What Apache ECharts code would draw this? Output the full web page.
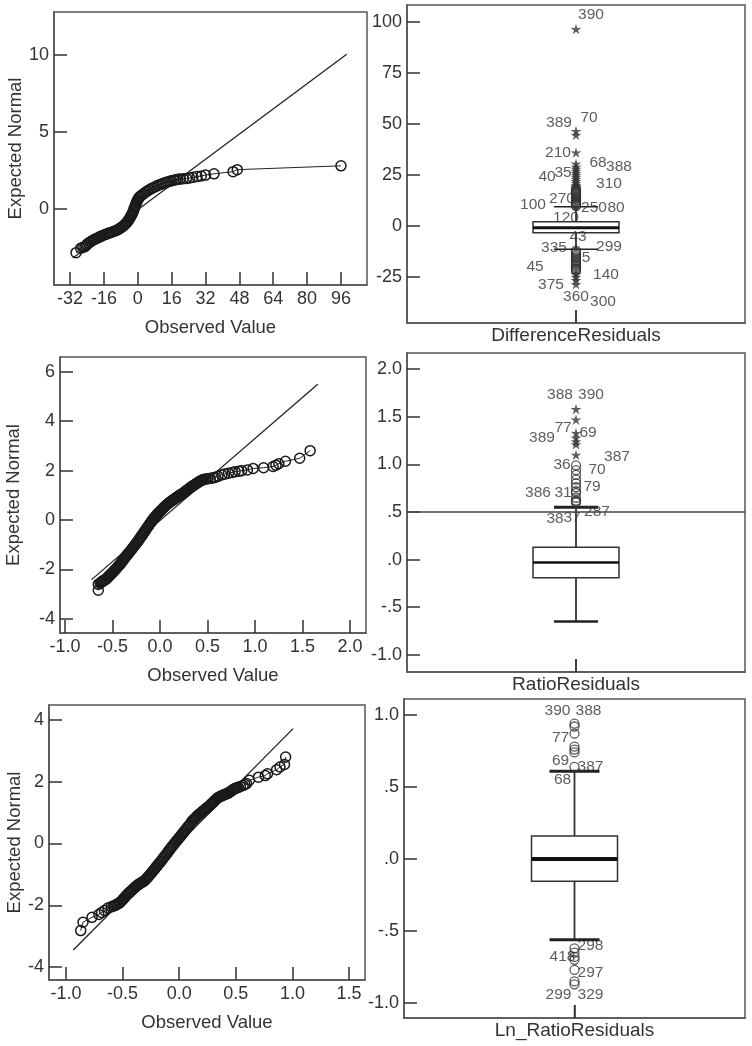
<!DOCTYPE html>
<html>
<head>
<meta charset="utf-8">
<script src="https://cdn.jsdelivr.net/npm/echarts@6/dist/echarts.min.js"></script>
<style>
html,body{margin:0;padding:0;background:#fff;}
#chart{width:752px;height:1046px;}
</style>
</head>
<body>
<div id="chart"></div>
<script>
// ---------- DATA ----------
// Q-Q plot 1 (DifferenceResiduals): [observed, expected normal]
const qq1Points = [[-29.2,-2.84],[-27,-2.55],[-26,-2.5],[-25,-2.45],[-24.5,-2.38],[-24,-2.3],[-23.3,-2.22],[-22.5,-2.15],[-22,-2.1],[-21.2,-2.03],[-20.5,-1.98],[-19.8,-1.93],[-19,-1.88],[-18.2,-1.83],[-17.5,-1.78],[-16.8,-1.74],[-16,-1.69],[-15.2,-1.65],[-14.4,-1.61],[-13.6,-1.57],[-12.8,-1.53],[-12,-1.49],[-11.2,-1.45],[-10.4,-1.41],[-9.7,-1.36],[-9,-1.31],[-8.3,-1.25],[-7.6,-1.19],[-7,-1.12],[-6.4,-1.05],[-5.9,-0.98],[-5.4,-0.91],[-5,-0.84],[-4.5,-0.76],[-4.1,-0.67],[-3.7,-0.58],[-3.3,-0.48],[-2.9,-0.39],[-2.6,-0.3],[-2.3,-0.2],[-2,-0.1],[-1.8,0.0],[-1.5,0.1],[-1.2,0.2],[-0.9,0.3],[-0.6,0.42],[-0.3,0.52],[0.1,0.62],[0.5,0.72],[1,0.8],[1.6,0.87],[2.3,0.94],[3,1.02],[3.8,1.1],[4.6,1.17],[5.5,1.25],[6.4,1.32],[7.3,1.38],[8.2,1.44],[9.1,1.5],[10,1.56],[11,1.61],[12,1.66],[13,1.71],[14,1.75],[15,1.79],[16,1.83],[17,1.87],[18,1.9],[19,1.92],[20,1.94],[21.5,1.96],[23,1.98],[24.5,2.01],[26,2.05],[28,2.1],[30,2.14],[32,2.2],[36,2.28],[45,2.42],[47,2.55],[96,2.8]];
const qq1RefLine = [[-30.7,-3.18],[98.7,10.05]];
const qq1XTicks = [-32,-16,0,16,32,48,64,80,96];
const qq1YTicks = [0,5,10];

// Q-Q plot 2 (RatioResiduals)
const qq2Points = [[-0.65,-2.84],[-0.65,-2.6],[-0.63,-2.55],[-0.62,-2.52],[-0.61,-2.49],[-0.6,-2.46],[-0.59,-2.44],[-0.58,-2.42],[-0.57,-2.39],[-0.56,-2.36],[-0.55,-2.32],[-0.54,-2.28],[-0.53,-2.24],[-0.52,-2.2],[-0.51,-2.16],[-0.5,-2.12],[-0.49,-2.08],[-0.48,-2.04],[-0.47,-2.0],[-0.46,-1.96],[-0.45,-1.91],[-0.44,-1.87],[-0.43,-1.83],[-0.42,-1.78],[-0.41,-1.73],[-0.4,-1.68],[-0.39,-1.63],[-0.38,-1.58],[-0.37,-1.53],[-0.36,-1.48],[-0.35,-1.43],[-0.34,-1.38],[-0.33,-1.34],[-0.32,-1.29],[-0.31,-1.24],[-0.3,-1.19],[-0.29,-1.14],[-0.28,-1.09],[-0.27,-1.04],[-0.26,-0.99],[-0.25,-0.94],[-0.24,-0.89],[-0.23,-0.84],[-0.22,-0.78],[-0.21,-0.73],[-0.2,-0.67],[-0.19,-0.62],[-0.18,-0.56],[-0.17,-0.5],[-0.16,-0.45],[-0.15,-0.39],[-0.14,-0.33],[-0.13,-0.28],[-0.12,-0.22],[-0.11,-0.17],[-0.1,-0.11],[-0.09,-0.06],[-0.08,0.0],[-0.07,0.05],[-0.06,0.09],[-0.05,0.14],[-0.04,0.18],[-0.03,0.23],[-0.02,0.27],[-0.01,0.31],[0.0,0.35],[0.01,0.39],[0.02,0.43],[0.03,0.47],[0.04,0.51],[0.05,0.55],[0.06,0.58],[0.07,0.62],[0.08,0.65],[0.09,0.68],[0.1,0.71],[0.11,0.74],[0.12,0.77],[0.13,0.8],[0.14,0.82],[0.15,0.85],[0.16,0.88],[0.17,0.9],[0.18,0.93],[0.19,0.96],[0.2,0.98],[0.21,1.01],[0.22,1.03],[0.23,1.06],[0.24,1.08],[0.25,1.11],[0.26,1.14],[0.27,1.17],[0.28,1.2],[0.29,1.23],[0.3,1.26],[0.31,1.29],[0.32,1.32],[0.33,1.35],[0.34,1.37],[0.35,1.4],[0.36,1.42],[0.37,1.45],[0.38,1.47],[0.39,1.5],[0.4,1.52],[0.41,1.55],[0.42,1.57],[0.43,1.59],[0.44,1.61],[0.45,1.63],[0.46,1.64],[0.48,1.66],[0.5,1.67],[0.53,1.69],[0.56,1.71],[0.58,1.73],[0.61,1.77],[0.65,1.83],[0.68,1.86],[0.72,1.9],[0.76,1.93],[0.79,1.96],[0.83,1.98],[0.86,2.0],[0.92,2.03],[0.98,2.09],[1.09,2.12],[1.19,2.17],[1.22,2.22],[1.25,2.28],[1.32,2.38],[1.47,2.5],[1.58,2.81]];
const qq2RefLine = [[-0.72,-2.41],[1.66,5.5]];
const qq2XTicks = [-1,-0.5,0,0.5,1,1.5,2];
const qq2YTicks = [-4,-2,0,2,4,6];

// Q-Q plot 3 (Ln_RatioResiduals)
const qq3Points = [[-0.87,-2.82],[-0.85,-2.55],[-0.77,-2.39],[-0.71,-2.3],[-0.685,-2.23],[-0.66,-2.17],[-0.63,-2.09],[-0.6,-2.05],[-0.58,-2.02],[-0.57,-2.01],[-0.56,-1.99],[-0.55,-1.97],[-0.54,-1.95],[-0.53,-1.93],[-0.52,-1.9],[-0.51,-1.86],[-0.5,-1.82],[-0.49,-1.78],[-0.48,-1.74],[-0.47,-1.7],[-0.46,-1.66],[-0.45,-1.62],[-0.44,-1.59],[-0.43,-1.55],[-0.42,-1.52],[-0.41,-1.48],[-0.4,-1.45],[-0.39,-1.42],[-0.38,-1.38],[-0.37,-1.35],[-0.36,-1.33],[-0.35,-1.3],[-0.34,-1.28],[-0.33,-1.26],[-0.32,-1.24],[-0.31,-1.21],[-0.3,-1.18],[-0.29,-1.14],[-0.28,-1.1],[-0.27,-1.06],[-0.26,-1.02],[-0.25,-0.97],[-0.24,-0.93],[-0.23,-0.88],[-0.22,-0.84],[-0.21,-0.79],[-0.2,-0.75],[-0.19,-0.7],[-0.18,-0.66],[-0.17,-0.61],[-0.16,-0.57],[-0.15,-0.52],[-0.14,-0.47],[-0.13,-0.42],[-0.12,-0.38],[-0.11,-0.33],[-0.1,-0.28],[-0.09,-0.23],[-0.08,-0.18],[-0.07,-0.13],[-0.06,-0.08],[-0.05,-0.04],[-0.04,0.01],[-0.03,0.05],[-0.02,0.1],[-0.01,0.14],[0.0,0.19],[0.01,0.23],[0.02,0.28],[0.03,0.32],[0.04,0.37],[0.05,0.41],[0.06,0.46],[0.07,0.51],[0.08,0.56],[0.09,0.6],[0.1,0.65],[0.11,0.7],[0.12,0.75],[0.13,0.78],[0.14,0.82],[0.15,0.86],[0.16,0.9],[0.17,0.93],[0.18,0.96],[0.19,0.99],[0.2,1.02],[0.21,1.05],[0.22,1.08],[0.23,1.11],[0.24,1.14],[0.25,1.17],[0.26,1.2],[0.27,1.23],[0.28,1.27],[0.29,1.3],[0.3,1.34],[0.31,1.38],[0.32,1.41],[0.33,1.45],[0.34,1.48],[0.35,1.5],[0.36,1.52],[0.37,1.54],[0.38,1.55],[0.39,1.57],[0.4,1.58],[0.41,1.6],[0.42,1.61],[0.43,1.63],[0.44,1.65],[0.45,1.68],[0.46,1.7],[0.47,1.73],[0.48,1.75],[0.49,1.78],[0.5,1.79],[0.51,1.8],[0.52,1.82],[0.54,1.85],[0.565,1.88],[0.58,1.91],[0.595,1.94],[0.62,2.05],[0.7,2.15],[0.76,2.2],[0.78,2.26],[0.86,2.39],[0.89,2.48],[0.93,2.56],[0.94,2.8]];
const qq3RefLine = [[-0.935,-3.45],[1.006,3.72]];
const qq3XTicks = [-1,-0.5,0,0.5,1,1.5];
const qq3YTicks = [-4,-2,0,2,4];

// Box plots: [lowWhisker, Q1, median, Q3, highWhisker]
const diffName = 'DifferenceResiduals';
const diffBox = [-11.4, -3.3, -0.8, 2.1, 9.5];
const diffCircles = [9.8,10.3,10.8,11.3,11.8,12.3,12.8,13.3,13.8,14.3,14.8,15.3,15.8,16.3,16.8,17.3,17.8,18.6,-12,-12.7,-13.3,-14,-14.7,-15.3,-16,-16.7,-17.3,-18,-18.7,-19.3,-20,-20.7,-21.3,-22];
const diffStars = [19.2,20,21,22,23,24,25,26,27,28,29,30.5,36,44.6,46.5,96.5,-23.5,-25,-26.5,-28.5];
const diffLabels = [['390',103.4],['389',50.5],['70',52.9],['210',35.8],['68',30.9],['388',28.9],['40',24.0],['35',26.0],['310',20.6],['100',10.3],['270',13.2],['250',8.8],['80',8.8],['120',3.9],['43',-5.4],['335',-10.8],['299',-10.3],['5',-15.7],['45',-20.1],['140',-24.0],['375',-28.9],['360',-34.8],['300',-37.3]];
const diffYTicks = [-25,0,25,50,75,100];

const ratioName = 'RatioResiduals';
const ratioBox = [-0.65, -0.19, -0.03, 0.13, 0.55];
const ratioCircles = [0.60,0.61,0.62,0.65,0.70,0.72,0.76,0.80,0.84,0.89,0.94,0.99];
const ratioStars = [1.10,1.21,1.24,1.28,1.33,1.47,1.58];
const ratioLabels = [['388',1.73],['390',1.73],['77',1.385],['389',1.28],['69',1.33],['36',1.0],['70',0.944],['387',1.08],['386',0.70],['31',0.70],['79',0.766],['38',0.43],['37',0.44],['287',0.50]];
const ratioRefValue = 0.5;
const ratioYTicks = [-1,-0.5,0,0.5,1,1.5,2];

const lnName = 'Ln_RatioResiduals';
const lnBox = [-0.56, -0.155, 0.0, 0.16, 0.61];
const lnCircles = [0.64,0.74,0.76,0.78,0.87,0.92,0.94,-0.62,-0.65,-0.68,-0.70,-0.77,-0.85,-0.87];
const lnLabels = [['390',1.03],['388',1.03],['77',0.84],['69',0.68],['387',0.64],['68',0.55],['298',-0.60],['418',-0.68],['297',-0.79],['299',-0.94],['329',-0.94]];
const lnYTicks = [-1,-0.5,0,0.5,1];

// ---------- STYLE / LAYOUT ----------
const diffLabelDx = [15,-17,13,-18,22,43,-29,-13,33,-43,-14,18,40,-10,2,-22,33,10,-41,30,-25,0,27];
const ratioLabelDx = [-16,15,-13,-34,12,-14,21,41,-38,-13,16,-21,-4,21];
const lnLabelDx = [-17,14,-14,-14,16,-12,16,-12,16,-16,16];

const FONT = 'Liberation Sans, Arial, sans-serif';
const INK = '#333';
const FRAME = '#555';
const STAR = 'path://M0,-10 L2.06,-2.83 L9.51,-3.09 L3.33,1.08 L5.88,8.09 L0,3.5 L-5.88,8.09 L-3.33,1.08 L-9.51,-3.09 L-2.06,-2.83 Z';

const grids = [
  {left:54, top:12, width:313, height:273},
  {left:407, top:5, width:338, height:318},
  {left:60, top:357, width:306, height:276},
  {left:407, top:353, width:338, height:319},
  {left:49, top:705, width:316, height:275},
  {left:404, top:699, width:341, height:319}
].map(g => Object.assign({show:true, borderColor:FRAME, borderWidth:1.5, backgroundColor:'#fff'}, g));

function spssNum(v){
  let s = (Math.round(v*10)/10).toFixed(1);
  if (s.startsWith('0.')) s = s.slice(1);
  else if (s.startsWith('-0.')) s = '-' + s.slice(2);
  if (s === '-.0') s = '.0';
  return s;
}

function valAxis(gi, min, max, ticks, fmt, extra){
  return Object.assign({
    gridIndex:gi, type:'value', min:min, max:max,
    axisLine:{show:true, onZero:false, lineStyle:{color:FRAME, width:1.5}},
    axisTick:{show:true, inside:true, length:13, customValues:ticks, lineStyle:{color:INK, width:1.5}},
    axisLabel:{customValues:ticks, formatter:fmt, fontSize:18, color:INK, fontFamily:FONT, margin:5},
    splitLine:{show:false}
  }, extra || {});
}
// box-plot horizontal axis: one variable placed at position 0
function boxXAxis(gi, name){
  return {
    gridIndex:gi, type:'value', min:-1, max:1,
    axisLine:{show:true, onZero:false, lineStyle:{color:FRAME, width:1.5}},
    axisTick:{show:true, inside:true, length:13, customValues:[0], lineStyle:{color:INK, width:1.5}},
    axisLabel:{customValues:[0], formatter:() => name, fontSize:19, color:INK, fontFamily:FONT, margin:3},
    splitLine:{show:false}
  };
}
const xName = {name:'Observed Value', nameLocation:'middle', nameGap:33, nameTextStyle:{fontSize:18.5, color:INK, fontFamily:FONT}};
function yName(gap){ return {name:'Expected Normal', nameLocation:'middle', nameRotate:90, nameGap:gap, nameTextStyle:{fontSize:18.5, color:INK, fontFamily:FONT}}; }

const xAxes = [
  valAxis(0, -39.6, 108.3, qq1XTicks, v => String(v), xName),
  boxXAxis(1, diffName),
  valAxis(2, -1.053, 2.168, qq2XTicks, v => v.toFixed(1), xName),
  boxXAxis(3, ratioName),
  valAxis(4, -1.15, 1.641, qq3XTicks, v => v.toFixed(1), xName),
  boxXAxis(5, lnName)
];
const yAxes = [
  valAxis(0, -4.94, 12.79, qq1YTicks, v => String(v), yName(29)),
  valAxis(1, -47.5, 108.3, diffYTicks, v => String(v)),
  valAxis(2, -4.57, 6.6, qq2YTicks, v => String(v), yName(37)),
  valAxis(3, -1.18, 2.17, ratioYTicks, spssNum),
  valAxis(4, -4.42, 4.486, qq3YTicks, v => String(v), yName(24)),
  valAxis(5, -1.104, 1.111, lnYTicks, spssNum)
];

function qqSeries(ai, points, ref){
  return [
    {type:'line', xAxisIndex:ai, yAxisIndex:ai, data:ref, symbol:'none', silent:true,
     lineStyle:{color:'#222', width:1.3}, z:2},
    {type:'line', xAxisIndex:ai, yAxisIndex:ai, data:points, symbol:'circle', symbolSize:10, showAllSymbol:true,
     lineStyle:{color:'#222', width:1}, itemStyle:{color:'rgba(0,0,0,0)', borderColor:'#1a1a1a', borderWidth:1.5}, z:3}
  ];
}

function boxSeries(ai, box, capW, medW, capLW){
  return {
    type:'custom', xAxisIndex:ai, yAxisIndex:ai, z:3,
    data:[[0].concat(box)],
    renderItem:function(params, api){
      const c = api.coord([api.value(0), api.value(1)]);
      const cx = c[0];
      const yLo = c[1];
      const yQ1 = api.coord([0, api.value(2)])[1];
      const yMed = api.coord([0, api.value(3)])[1];
      const yQ3 = api.coord([0, api.value(4)])[1];
      const yHi = api.coord([0, api.value(5)])[1];
      const cs = params.coordSys;
      const yBottom = cs.y + cs.height;
      const hw = 43, cw = capW/2;
      const st = {stroke:'#333', lineWidth:1.8};
      return {type:'group', children:[
        {type:'line', shape:{x1:cx,y1:yBottom,x2:cx,y2:yBottom-13}, style:{stroke:INK, lineWidth:1.5}},
        {type:'line', shape:{x1:cx,y1:yLo,x2:cx,y2:yQ1}, style:st},
        {type:'line', shape:{x1:cx,y1:yQ3,x2:cx,y2:yHi}, style:st},
        {type:'line', shape:{x1:cx-cw,y1:yLo,x2:cx+cw,y2:yLo}, style:{stroke:'#222', lineWidth:capLW[0]}},
        {type:'line', shape:{x1:cx-cw,y1:yHi,x2:cx+cw,y2:yHi}, style:{stroke:'#222', lineWidth:capLW[1]}},
        {type:'rect', shape:{x:cx-hw, y:yQ3, width:2*hw, height:yQ1-yQ3}, style:{fill:'#fff', stroke:'#333', lineWidth:1.5}},
        {type:'line', shape:{x1:cx-hw,y1:yMed,x2:cx+hw,y2:yMed}, style:{stroke:'#111', lineWidth:medW}}
      ]};
    }
  };
}
function markerSeries(ai, vals, symbol, size){
  return {type:'scatter', xAxisIndex:ai, yAxisIndex:ai, data:vals.map(v => [0, v]), symbol:symbol, symbolSize:size,
    symbolKeepAspect:true,
    itemStyle: symbol === 'circle' ? {color:'rgba(0,0,0,0)', borderColor:'#333', borderWidth:1.3} : {color:'#333'},
    z:5, silent:true};
}
function labelSeries(ai, labels, dx){
  return {type:'scatter', xAxisIndex:ai, yAxisIndex:ai, symbolSize:0, silent:true, z:4,
    data:labels.map((l,i) => ({name:l[0], value:[0, l[1]], label:{offset:[dx[i],0]}})),
    label:{show:true, position:'inside', formatter:'{b}', fontSize:15.5, color:INK, fontFamily:FONT}};
}

const series = [].concat(
  qqSeries(0, qq1Points, qq1RefLine),
  qqSeries(2, qq2Points, qq2RefLine),
  qqSeries(4, qq3Points, qq3RefLine),
  [
    labelSeries(1, diffLabels, diffLabelDx),
    boxSeries(1, diffBox, 44, 3, [1.5,1.5]),
    markerSeries(1, diffCircles, 'circle', 9),
    markerSeries(1, diffStars, STAR, 11),
    labelSeries(3, ratioLabels, ratioLabelDx),
    boxSeries(3, ratioBox, 44, 2.5, [2.5,3]),
    markerSeries(3, ratioCircles, 'circle', 9),
    markerSeries(3, ratioStars, STAR, 11),
    {type:'line', xAxisIndex:3, yAxisIndex:3, data:[], silent:true,
     markLine:{silent:true, symbol:'none', label:{show:false}, lineStyle:{color:'#444', width:1.5, type:'solid'},
       data:[{yAxis:ratioRefValue}]}, z:6},
    labelSeries(5, lnLabels, lnLabelDx),
    boxSeries(5, lnBox, 50, 4, [3,3]),
    markerSeries(5, lnCircles, 'circle', 9)
  ]
);

const chart = echarts.init(document.getElementById('chart'), null, {renderer:'canvas'});
chart.setOption({
  animation:false,
  backgroundColor:'#fff',
  textStyle:{fontFamily:FONT},
  grid:grids,
  xAxis:xAxes,
  yAxis:yAxes,
  series:series
});
</script>
</body>
</html>
